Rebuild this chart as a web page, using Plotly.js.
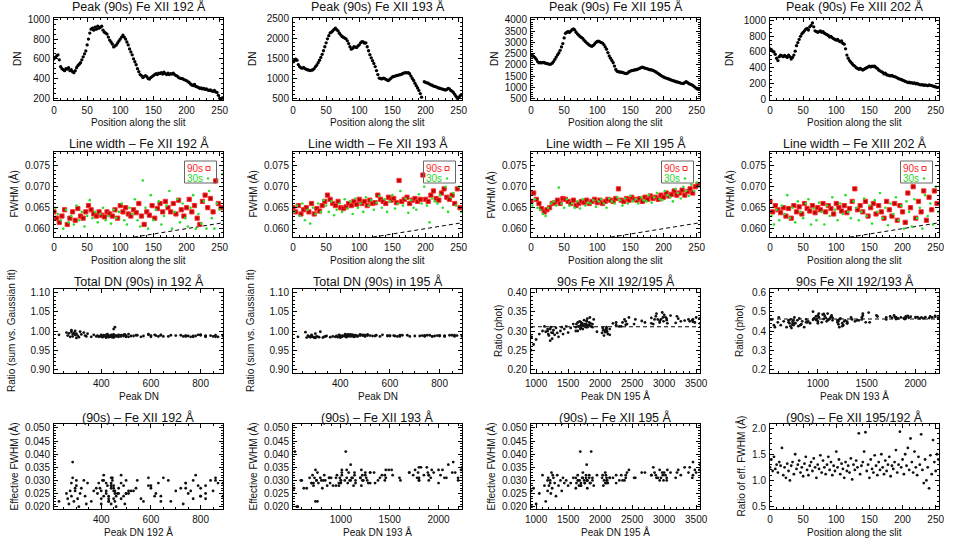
<!DOCTYPE html>
<html><head><meta charset="utf-8">
<script src="https://cdn.plot.ly/plotly-3.0.1.min.js"></script>
<style>html,body{margin:0;padding:0;background:#fff}#c{width:954px;height:544px}</style>
</head><body><div id="c"></div>
<script>
// ---------------- DATA ----------------
const pos2 = [0,2,4,6,8,10,12,14,16,18,20,22,24,26,28,30,32,34,36,38,40,42,44,46,48,50,52,54,56,58,60,62,
64,66,68,70,72,74,76,78,80,82,84,86,88,90,92,94,96,98,100,102,104,106,108,110,112,114,116,118,120,122,124,126,
128,130,132,134,136,138,140,142,144,146,148,150,152,154,156,158,160,162,164,166,168,170,172,174,176,178,180,182,184,186,188,190,
192,194,196,198,200,202,204,206,208,210,212,214,216,218,220,222,224,226,228,230,232,234,236,238,240,242,244,246,248,250,252,254];
const posA = [0,4,8,12,16,20,24,28,32,36,40,44,48,52,56,60,64,68,72,76,80,84,88,92,96,100,104,108,112,116,120,124,
128,132,136,140,144,148,152,156,160,164,168,172,176,180,184,188,192,196,200,204,208,212,216,220,224,228,232,236,240,244,248,252];
const posB = [2,6,10,14,18,22,26,30,34,38,42,46,50,54,58,62,66,70,74,78,82,86,90,94,98,102,106,110,114,118,122,126,
130,134,138,142,146,150,154,158,162,166,170,174,178,182,186,190,194,198,202,206,210,214,218,222,226,230,234,238,242,246,250,254];

const peak192 = [600,615,630,640,590,520,500,490,480,500,495,510,480,490,470,460,
480,510,530,545,560,590,620,650,680,740,800,860,900,910,890,920,
900,930,910,920,930,890,870,860,850,820,790,770,750,720,730,740,
760,780,800,820,840,820,800,770,740,700,670,640,600,570,540,500,
470,440,430,410,420,430,420,400,395,410,420,430,440,450,440,455,
450,460,445,465,450,440,455,440,450,445,455,440,430,425,410,405,
400,400,390,385,380,370,360,345,335,330,340,320,315,310,300,305,
295,300,290,295,285,280,285,275,270,280,265,260,230,200,195,205];
const peak193 = [1420,1450,1490,1460,1350,1300,1270,1260,1280,1250,1230,1220,1210,1200,1210,1220,
1250,1300,1340,1400,1460,1530,1610,1700,1800,1900,2000,2080,2150,2170,2200,2240,
2270,2230,2200,2140,2100,2060,2040,2020,2000,1950,1880,1800,1740,1760,1800,1790,
1780,1820,1850,1900,1930,1920,1890,1900,1800,1700,1600,1520,1450,1380,1300,1200,
1100,1010,1000,990,1010,1000,980,960,950,980,1010,1040,1050,1060,1070,1080,
1090,1100,1110,1130,1140,1150,1140,1150,1120,1060,1000,950,880,820,760,700,
620,530,null,920,900,890,880,860,840,830,810,800,790,770,760,750,
740,730,720,710,720,750,740,700,680,650,600,550,500,520,560,590];
const peak195 = [2400,2420,2380,2330,2250,2150,2100,2110,2090,2120,2100,2080,2060,2050,2030,2040,
2080,2150,2250,2350,2450,2530,2650,2800,2950,3200,3400,3450,3480,3440,3500,3560,
3600,3550,3450,3380,3320,3260,3220,3180,3100,3040,2980,2930,2880,2850,2830,2870,
2930,3000,3040,3050,3020,2990,2970,2900,2800,2700,2550,2400,2300,2200,2100,1950,
1800,1720,1700,1690,1680,1670,1650,1630,1620,1650,1700,1730,1750,1760,1780,1790,
1800,1830,1850,1880,1900,1880,1860,1840,1830,1800,1790,1780,1760,1730,1700,1660,
1620,1580,1540,1500,1470,1440,1420,1400,1380,1350,1330,1310,1290,1270,1250,1240,
1220,1200,1190,1180,1220,1260,1230,1180,1150,1130,1100,1050,1000,960,930,920];
const peak202 = [640,630,610,600,570,520,490,540,560,550,540,555,545,530,560,540,
510,530,560,610,680,720,760,800,830,850,870,890,900,880,920,940,
970,920,870,860,850,860,870,850,860,840,830,820,810,790,800,780,
770,760,750,760,740,730,740,710,700,640,560,520,490,470,450,430,
420,400,390,380,390,380,370,380,390,400,410,420,410,420,415,420,
400,390,370,360,350,340,320,330,310,305,300,295,300,290,285,280,
270,260,255,250,240,235,225,220,210,215,205,210,200,205,195,200,
190,185,180,185,175,180,175,170,180,175,170,165,160,155,150,150];

const fw90_192 = [.0640,.0625,.0615,.0630,.0645,.0610,.0625,.0640,
.0620,.0648,.0630,.0625,.0640,.0655,.0645,.0635,
.0630,.0640,.0632,.0628,.0640,.0635,.0630,.0645,
.0625,.0655,.0640,.0650,.0635,.0630,.0645,.0638,
.0660,.0630,.0610,.0640,.0632,.0655,.0625,.0648,
.0660,.0640,.0665,.0650,.0640,.0660,.0635,.0668,
.0645,.0630,.0650,.0670,.0640,.0655,.0625,.0610,
.0665,.0680,.0650,.0672,.0640,.0714,.0660,.0650];
const fw30_192 = [.0650,.0635,.0620,.0600,.0645,.0615,.0630,.0610,
.0655,.0620,.0640,.0605,.0630,.0668,.0625,.0640,
.0615,.0635,.0650,.0620,.0630,.0612,.0645,.0625,
.0640,.0660,.0620,.0610,.0650,.0635,.0670,.0620,
.0605,.0715,.0650,.0600,.0680,.0620,.0645,.0665,
.0610,.0630,.0655,.0690,.0600,.0640,.0670,.0615,
.0660,.0625,.0605,.0650,.0680,.0600,.0635,.0612,
.0665,.0600,.0690,.0625,.0600,.0660,.0645,.0730];
const fw90_193 = [.0650,.0640,.0655,.0635,.0645,.0650,.0640,.0660,
.0635,.0648,.0642,.0655,.0665,.0680,.0670,.0660,
.0655,.0665,.0650,.0648,.0652,.0660,.0655,.0665,
.0658,.0670,.0660,.0665,.0655,.0668,.0660,.0662,
.0680,.0670,.0665,.0660,.0675,.0668,.0672,.0662,
.0715,.0665,.0670,.0675,.0660,.0668,.0672,.0665,
.0670,.0728,.0670,.0665,.0680,.0690,.0672,.0668,
.0685,.0695,.0675,.0670,.0680,.0660,.0695,.0650];
const fw30_193 = [.0640,.0655,.0630,.0660,.0620,.0645,.0612,.0650,
.0635,.0660,.0640,.0668,.0655,.0640,.0665,.0632,
.0645,.0660,.0640,.0670,.0648,.0665,.0635,.0672,
.0650,.0660,.0640,.0675,.0655,.0668,.0645,.0662,
.0678,.0650,.0670,.0640,.0665,.0680,.0648,.0660,
.0690,.0655,.0672,.0638,.0668,.0650,.0645,.0682,
.0660,.0700,.0655,.0615,.0672,.0665,.0660,.0680,
.0650,.0700,.0640,.0675,.0685,.0655,.0700,.0640];
const fw90_195 = [.0665,.0685,.0670,.0660,.0648,.0640,.0645,.0650,
.0660,.0662,.0668,.0660,.0672,.0670,.0665,.0660,
.0668,.0655,.0660,.0665,.0662,.0668,.0660,.0665,
.0670,.0662,.0668,.0660,.0665,.0670,.0668,.0665,
.0672,.0695,.0668,.0665,.0672,.0668,.0675,.0670,
.0668,.0672,.0665,.0675,.0670,.0678,.0672,.0675,
.0670,.0680,.0675,.0685,.0678,.0682,.0690,.0680,
.0685,.0692,.0680,.0688,.0695,.0685,.0700,.0705];
const fw30_195 = [.0655,.0670,.0650,.0645,.0635,.0630,.0650,.0660,
.0665,.0655,.0698,.0660,.0650,.0670,.0655,.0660,
.0650,.0665,.0648,.0670,.0655,.0662,.0660,.0668,
.0652,.0665,.0670,.0660,.0650,.0672,.0665,.0660,
.0675,.0668,.0655,.0672,.0660,.0678,.0665,.0670,
.0660,.0675,.0668,.0665,.0680,.0662,.0675,.0685,
.0670,.0668,.0690,.0680,.0675,.0665,.0695,.0685,
.0672,.0700,.0690,.0678,.0705,.0690,.0710,.0700];
const fw90_202 = [.0665,.0640,.0655,.0645,.0638,.0650,.0630,.0648,
.0625,.0655,.0640,.0652,.0635,.0660,.0648,.0642,
.0655,.0638,.0650,.0645,.0660,.0640,.0655,.0648,
.0635,.0660,.0650,.0642,.0655,.0638,.0648,.0665,
.0695,.0645,.0655,.0640,.0665,.0630,.0650,.0660,
.0635,.0655,.0640,.0625,.0665,.0645,.0630,.0660,
.0620,.0655,.0640,.0615,.0685,.0650,.0700,.0625,
.0665,.0640,.0690,.0620,.0675,.0645,.0690,.0660];
const fw30_202 = [.0630,.0610,.0645,.0620,.0655,.0635,.0680,.0625,
.0650,.0615,.0665,.0640,.0625,.0660,.0670,.0610,
.0648,.0620,.0662,.0640,.0610,.0655,.0630,.0675,
.0645,.0620,.0660,.0635,.0680,.0640,.0625,.0665,
.0650,.0620,.0640,.0672,.0630,.0655,.0612,.0668,
.0640,.0685,.0625,.0650,.0608,.0660,.0635,.0675,
.0620,.0655,.0600,.0665,.0640,.0605,.0670,.0625,
.0650,.0600,.0680,.0630,.0660,.0610,.0700,.0640];
const instX = [110,150,200,255];
const instY = [0.0577,0.0587,0.0600,0.0614];

const tot192 = [0.988,0.990,0.986,0.989,0.992,0.987,0.985,
0.990,0.986,0.988,0.991,0.985,0.989,0.987,0.990,0.986,0.988,0.992,
0.987,0.989,0.985,0.990,0.988,0.986,0.989,
0.987,0.990,0.985,0.988,0.986,0.989,0.987,0.985,0.988,0.990,0.986,0.988,
0.987,0.985,0.989,0.986,0.988,0.990,0.985,0.987,0.989,0.986,0.988,0.985,0.987,0.990,0.986,0.988,0.985,0.989,0.987,0.986,
0.988,0.986,0.990,0.985,0.987,0.989,0.986,
0.985,0.988,0.984,0.987,0.990,0.985,0.983,0.988,0.986,0.989,0.984,0.987,0.990,1.005,0.986,1.010,0.985,0.988,0.984,0.987,
0.991,0.985,0.988,0.986,0.983,0.989,0.987,0.985,0.988,0.992,0.986,0.984,0.990,0.987,0.985,0.988,0.986,
0.990,0.985,0.993,0.988,0.996,0.986,0.991,0.998,0.984,0.993,0.988,1.000,0.982,0.995,0.990,0.986,0.998,0.992,0.985,0.994,
1.002,0.988,0.996,0.990,0.984,0.993,0.998];
const tot195 = [0.987,0.988,0.986,0.989,0.987,0.988,0.986,
0.988,0.990,0.987,0.989,0.991,0.988,0.990,0.987,0.989,0.991,0.988,
0.987,0.989,0.986,0.988,0.987,0.989,0.986,
0.988,0.987,0.989,0.986,0.988,0.987,0.989,0.986,0.988,0.987,0.989,0.986,
0.987,0.988,0.986,0.989,0.987,0.988,0.986,0.989,0.987,0.988,0.986,0.989,0.987,0.988,0.986,0.989,0.987,0.988,0.986,0.988,
0.987,0.989,0.986,0.988,0.990,0.987,0.989,
0.986,0.988,0.990,0.987,0.989,0.991,0.986,0.988,0.990,0.987,0.992,0.989,0.986,0.988,0.991,0.987,0.989,0.986,0.990,0.988,
0.987,0.989,0.986,0.988,0.990,0.987,0.985,0.988,0.986,0.984,0.987,0.985,0.983,0.986,0.984,0.987,0.985,
0.986,0.984,0.987,0.985,0.983,0.986,0.998,0.984,0.985,0.982,0.986,0.984,0.993,0.985,0.983,0.987,0.984,0.990,0.985,0.988,
0.986,0.983,0.997,0.985,0.998,0.986,0.984];
const rat192_195 = [0.325,0.318,0.330,0.312,0.322,0.305,0.300,
0.298,0.305,0.292,0.310,0.300,0.288,0.302,0.295,0.308,0.297,0.290,
0.315,0.322,0.335,0.318,0.326,0.320,0.330,
0.338,0.325,0.330,0.322,0.328,0.335,0.320,0.326,0.332,0.324,0.330,0.327,
0.325,0.332,0.321,0.340,0.328,0.335,0.322,0.345,0.330,0.318,0.338,0.326,0.342,0.332,0.320,0.336,0.325,0.348,0.330,0.334,
0.322,0.330,0.316,0.312,0.320,0.305,0.298,
0.310,0.320,0.315,0.305,0.325,0.312,0.300,0.318,0.310,0.322,0.308,0.315,0.328,0.312,0.318,0.325,0.332,0.315,0.320,0.310,
0.330,0.318,0.312,0.335,0.322,0.315,0.326,0.310,0.318,0.305,0.322,0.312,0.300,0.318,0.308,0.296,0.312,
0.305,0.292,0.310,0.300,0.285,0.295,0.308,0.290,0.302,0.280,0.296,0.305,0.288,0.292,0.300,0.275,0.295,0.310,0.305,0.298,
0.312,0.300,0.292,0.278,0.265,0.285,0.250];
const rat192_193 = [0.455,0.470,0.445,0.480,0.460,0.440,0.450,
0.430,0.455,0.440,0.465,0.420,0.450,0.445,0.435,0.460,0.425,0.448,
0.470,0.455,0.490,0.445,0.475,0.460,0.470,
0.468,0.472,0.465,0.475,0.470,0.478,0.466,0.472,0.469,0.474,0.467,0.471,
0.470,0.465,0.472,0.468,0.474,0.466,0.470,0.475,0.468,0.462,0.472,0.480,0.465,0.470,0.475,0.468,0.478,0.462,0.470,0.466,
0.470,0.480,0.495,0.460,0.450,0.440,0.455,
0.455,0.470,0.480,0.460,0.490,0.450,0.475,0.465,0.500,0.458,0.472,0.445,0.485,0.462,0.478,0.468,0.450,0.490,0.460,0.470,
0.480,0.455,0.475,0.468,0.462,0.488,0.440,0.458,0.445,0.430,0.440,0.455,0.430,0.460,0.465,0.440,0.450,
0.445,0.460,0.420,0.450,0.435,0.465,0.425,0.455,0.440,0.470,0.430,0.448,0.415,0.460,0.440,0.425,0.455,0.435,0.445,0.420,
0.450,0.470,0.430,0.400,0.460,0.420,0.445];
const ratLine195 = [0.311,0.311];
const ratLine193 = [0.462,0.462];

const eff192 = [0.027,0.024,0.029,0.022,0.031,0.026,0.025,
0.028,0.023,0.030,0.021,0.026,0.032,0.024,0.027,0.020,0.029,0.025,
0.026,0.030,0.023,0.028,0.025,0.031,0.022,
0.027,0.024,0.030,0.026,0.022,0.029,0.025,0.032,0.027,0.023,0.028,0.026,
0.024,0.029,0.031,0.026,0.023,0.028,0.030,0.025,0.027,0.021,0.029,0.026,0.032,0.024,0.028,0.030,0.025,0.027,0.023,0.029,
0.026,0.030,0.024,0.028,0.022,0.027,0.025,
0.025,0.028,0.022,0.030,0.026,0.024,0.029,0.021,0.027,0.032,0.025,0.023,0.028,0.026,0.031,0.022,0.027,0.024,0.030,0.025,
0.028,0.021,0.026,0.029,0.023,0.031,0.025,0.027,0.022,0.028,0.024,0.030,0.026,0.023,0.029,0.025,0.027,
0.026,0.022,0.029,0.024,0.030,0.021,0.027,0.025,0.020,0.028,0.023,0.026,0.030,0.022,0.027,0.031,0.024,0.037,0.026,0.021,
0.029,0.023,0.025,0.022,0.028,0.021,0.024];
const eff193 = [0.032,0.030,0.034,0.031,0.029,0.033,0.030,
0.031,0.029,0.033,0.030,0.032,0.028,0.031,0.034,0.030,0.032,0.029,
0.033,0.031,0.034,0.032,0.030,0.033,0.035,
0.032,0.034,0.031,0.037,0.033,0.030,0.035,0.032,0.034,0.031,0.033,0.036,
0.031,0.034,0.032,0.029,0.033,0.035,0.031,0.032,0.034,0.030,0.033,0.031,0.035,0.032,0.030,0.034,0.031,0.033,0.032,0.030,
0.033,0.031,0.034,0.032,0.030,0.033,0.031,
0.030,0.032,0.029,0.031,0.033,0.030,0.028,0.032,0.031,0.029,0.034,0.030,0.041,0.031,0.029,0.033,0.030,0.036,0.031,0.028,
0.032,0.030,0.033,0.029,0.031,0.034,0.030,0.028,0.031,
0.030,0.022,0.029,0.027,0.041,0.030,0.028,0.031,
0.029,0.031,0.028,0.030,0.032,0.027,0.030,0.031,0.029,0.033,0.030,0.022,0.031,0.029,0.032,0.028,0.030,0.034,0.029,0.031,
0.027,0.030,0.020,0.032,0.027,0.020,0.030];
const eff195 = [0.031,0.033,0.030,0.032,0.029,0.031,0.030,
0.030,0.032,0.029,0.031,0.033,0.030,0.028,0.031,0.032,0.029,0.031,
0.032,0.030,0.034,0.031,0.033,0.032,0.031,
0.033,0.035,0.032,0.034,0.031,0.033,0.036,0.032,0.034,0.037,0.033,0.035,
0.032,0.034,0.031,0.033,0.030,0.032,0.034,0.031,0.033,0.035,0.032,0.030,0.033,0.031,0.034,0.032,0.030,0.033,0.031,0.032,
0.033,0.031,0.032,0.030,0.031,0.029,0.032,
0.030,0.031,0.029,0.041,0.030,0.028,0.032,0.029,0.031,0.030,0.028,0.033,0.030,0.029,0.031,0.036,0.030,0.032,0.029,0.031,
0.028,0.030,0.041,0.029,0.031,0.027,0.030,0.032,0.029,0.031,0.028,0.030,0.027,0.031,0.029,0.028,0.030,
0.029,0.031,0.026,0.030,0.028,0.032,0.024,0.029,0.031,0.027,0.033,0.030,0.028,0.031,0.026,0.029,0.032,0.025,0.030,0.022,
0.028,0.032,0.025,0.021,0.027,0.020,0.026];
const effRatio = [1.25,1.40,1.18,1.45,1.22,1.30,1.15,1.35,1.28,1.62,
1.10,1.25,1.05,1.32,1.18,1.00,1.28,1.35,1.12,1.50,
1.22,1.30,1.38,1.15,1.25,1.08,1.32,1.45,1.20,1.10,
1.28,1.35,1.18,1.42,1.25,1.05,1.30,1.22,1.48,1.15,
1.38,1.25,1.12,1.30,1.45,1.20,1.35,1.10,1.28,1.18,
1.55,1.25,1.40,1.12,1.32,1.22,1.05,1.35,1.18,1.28,
1.15,1.42,1.02,1.30,1.20,1.38,1.25,1.90,1.12,1.28,
1.35,1.55,1.92,1.18,1.30,1.05,1.40,1.22,1.15,1.48,
1.28,1.10,1.35,1.20,1.50,1.25,1.12,1.38,1.18,1.30,
1.45,1.08,1.28,1.22,1.35,1.58,1.15,1.30,1.93,1.25,
1.40,1.12,1.50,1.28,1.62,1.20,1.80,1.35,1.15,1.55,
1.25,1.10,1.45,1.30,1.88,1.20,0.95,1.40,1.00,1.25,
0.85,1.48,1.12,1.77,1.35,1.18,1.50,1.40];

const titles = ['Peak (90s) Fe XII 192 Å','Peak (90s) Fe XII 193 Å','Peak (90s) Fe XII 195 Å','Peak (90s) Fe XIII 202 Å',
 'Line width – Fe XII 192 Å','Line width – Fe XII 193 Å','Line width – Fe XII 195 Å','Line width – Fe XIII 202 Å',
 'Total DN (90s) in 192 Å','Total DN (90s) in 195 Å','90s Fe XII 192/195 Å','90s Fe XII 192/193 Å',
 '(90s) – Fe XII 192 Å','(90s) – Fe XII 193 Å','(90s) – Fe XII 195 Å','(90s) – Fe XII 195/192 Å'];
const pos = 'Position along the slit';
const xTitles = [pos,pos,pos,pos, pos,pos,pos,pos,
 'Peak DN','Peak DN','Peak DN 195 Å','Peak DN 193 Å',
 'Peak DN 192 Å','Peak DN 193 Å','Peak DN 195 Å',pos];
const yTitles = ['DN','DN','DN','DN','FWHM (Å)','FWHM (Å)','FWHM (Å)','FWHM (Å)',
 'Ratio (sum vs. Gaussian fit)','Ratio (sum vs. Gaussian fit)','Ratio (phot)','Ratio (phot)',
 'Effective FWHM (Å)','Effective FWHM (Å)','Effective FWHM (Å)','Ratio of eff. FWHM (Å)'];

// ---------------- LAYOUT GEOMETRY ----------------
const W = 954, H = 544;
const colL = [54, 293, 531, 770], PW = 169;
const rowTB = [[18,100],[152,237],[289,373],[424,509]];
const titleY = [7, 144, 281, 417];
const ytX = [[18,253,495,730],[13,252,490,729],[11,250,498,739],[13,252,490,740]];
const FONT = 'Liberation Sans, Arial, Helvetica, sans-serif';
const TXT = '#111';
const px = v => v / W, py = v => 1 - v / H;

const R1 = {xr:[0,255],xd:50,xm:10};
const DNS = {xr:[210,890],xd:200,xm:50};
const D193 = {xr:[510,2240],xd:500,xm:100};
const D195 = {xr:[920,3560],xd:500,xm:100};
const FW = {yr:[0.0580,0.0783],yd:0.005,ym:0.001,yf:'.3f'};
const EF = {yr:[0.0191,0.0515],yd:0.005,ym:0.001,yf:'.3f'};
const spec = [
 Object.assign({yr:[183,1013],yd:200,ym:50,yf:''},R1),
 Object.assign({yr:[458,2525],yd:500,ym:100,yf:''},R1),
 Object.assign({yr:[450,4080],yd:500,ym:100,yf:''},R1),
 Object.assign({yr:[-12,1033],yd:200,ym:50,yf:''},R1),
 Object.assign({},FW,R1),Object.assign({},FW,R1),Object.assign({},FW,R1),Object.assign({},FW,R1),
 Object.assign({yr:[0.891,1.109],yd:0.05,ym:0.01,yf:'.2f'},DNS),
 Object.assign({yr:[0.891,1.109],yd:0.05,ym:0.01,yf:'.2f'},DNS),
 Object.assign({yr:[0.191,0.409],yd:0.05,ym:0.01,yf:'.2f'},D195),
 Object.assign({yr:[0.183,0.617],yd:0.1,ym:0.02,yf:'.1f'},D193),
 Object.assign({},EF,DNS),Object.assign({},EF,D193),Object.assign({},EF,D195),
 Object.assign({yr:[0.455,2.077],yd:0.5,ym:0.1,yf:'.1f'},R1)
];

const layout = {width:W,height:H,margin:{l:0,r:0,t:0,b:0},showlegend:false,
  paper_bgcolor:'#fff',plot_bgcolor:'#fff',font:{family:FONT,color:TXT,size:10},
  annotations:[],shapes:[]};

function axis(domain, range, dtick, minor, fmt, anchor){
  return {domain, range, autorange:false, dtick, tick0:0, tickformat:fmt, anchor,
    showline:true, linecolor:'#000', linewidth:1, mirror:'allticks',
    ticks:'inside', ticklen:4, tickwidth:1, tickcolor:'#000',
    minor:{ticks:'inside', ticklen:2, dtick:minor, tick0:0, tickcolor:'#000', tickwidth:1},
    showgrid:false, zeroline:false, fixedrange:true,
    tickfont:{family:FONT,size:10,color:TXT}, ticklabelstandoff:1};
}

for (let i = 0; i < 16; i++) {
  const r = Math.floor(i/4), c = i % 4, s = spec[i];
  const xl = colL[c], xr = xl + PW, [yt, yb] = rowTB[r];
  const n = i === 0 ? '' : String(i+1);
  layout['xaxis'+n] = axis([px(xl), px(xr)], s.xr, s.xd, s.xm, '', 'y'+n);
  layout['yaxis'+n] = axis([py(yb), py(yt)], s.yr, s.yd, s.ym, s.yf, 'x'+n);
  const cx = px((xl+xr)/2);
  layout.annotations.push({text:titles[i], xref:'paper', yref:'paper', x:cx, y:py(titleY[r]),
    xanchor:'center', yanchor:'middle', showarrow:false, font:{family:FONT,size:12.5,color:TXT}});
  layout.annotations.push({text:xTitles[i], xref:'paper', yref:'paper', x:cx, y:py(yb+23),
    xanchor:'center', yanchor:'middle', showarrow:false, font:{family:FONT,size:10,color:TXT}});
  layout.annotations.push({text:yTitles[i], xref:'paper', yref:'paper', x:px(ytX[r][c]), y:py((yt+yb)/2),
    xanchor:'center', yanchor:'middle', textangle:-90, showarrow:false, font:{family:FONT,size:10,color:TXT}});
  if (r === 1) {
    const y0 = 161, y1 = 183;
    layout.shapes.push({type:'rect', xref:'paper', yref:'paper', x0:px(xl+130.5), x1:px(xl+162.5), y0:py(y1), y1:py(y0),
      line:{color:'#666',width:1}, fillcolor:'rgba(255,255,255,0)'});
    layout.annotations.push({text:'90s', xref:'paper', yref:'paper', x:px(xl+141), y:py(168.5), xanchor:'center', yanchor:'middle',
      showarrow:false, font:{family:FONT,size:10,color:'#ff2a2a'}});
    layout.annotations.push({text:'30s', xref:'paper', yref:'paper', x:px(xl+141), y:py(178.5), xanchor:'center', yanchor:'middle',
      showarrow:false, font:{family:FONT,size:10,color:'#2ad82a'}});
    layout.shapes.push({type:'rect', xref:'paper', yref:'paper', x0:px(xl+152), x1:px(xl+156), y0:py(170.5), y1:py(166.5),
      line:{color:'#ff2a2a',width:1}, fillcolor:'rgba(255,255,255,0)'});
    layout.shapes.push({type:'circle', xref:'paper', yref:'paper', x0:px(xl+153), x1:px(xl+155), y0:py(179.5), y1:py(177.5),
      line:{color:'#2ad82a',width:0.5}, fillcolor:'#2ad82a'});
  }
}

// ---------------- TRACES ----------------
const traces = [];
function ax(k){ return k === 1 ? '' : String(k); }
function pts(k, x, y, m){ traces.push({type:'scatter', mode:'markers', x, y, xaxis:'x'+ax(k), yaxis:'y'+ax(k), marker:m, hoverinfo:'skip', cliponaxis:true}); }
function dash(k, x, y){ traces.push({type:'scatter', mode:'lines', x, y, xaxis:'x'+ax(k), yaxis:'y'+ax(k), line:{color:'#000',width:1,dash:'4px,3px'}, hoverinfo:'skip'}); }
const mDN = {symbol:'circle', size:3.3, color:'#000'};
const mRed = {symbol:'square', size:4.2, color:'#b80808', line:{color:'#ff2a2a', width:1}};
const mGreen = {symbol:'circle', size:2.6, color:'#2ade2a', line:{width:0}};
const mPt = {symbol:'circle', size:2.8, color:'#111', line:{width:0}};

pts(1, pos2, peak192, mDN); pts(2, pos2, peak193, mDN); pts(3, pos2, peak195, mDN); pts(4, pos2, peak202, mDN);
const fw = [[fw90_192,fw30_192],[fw90_193,fw30_193],[fw90_195,fw30_195],[fw90_202,fw30_202]];
fw.forEach((f, j) => { dash(5+j, instX, instY); pts(5+j, posA, f[0], mRed); pts(5+j, posB, f[1], mGreen); });
pts(9, peak192, tot192, mPt);
pts(10, peak192, tot195, mPt);
dash(11, D195.xr, ratLine195); pts(11, peak195, rat192_195, mPt);
dash(12, D193.xr, ratLine193); pts(12, peak193, rat192_193, mPt);
pts(13, peak192, eff192, mPt);
pts(14, peak193, eff193, mPt);
pts(15, peak195, eff195, mPt);
pts(16, pos2, effRatio, mPt);

Plotly.newPlot('c', traces, layout, {displayModeBar:false, staticPlot:true});
</script></body></html>
